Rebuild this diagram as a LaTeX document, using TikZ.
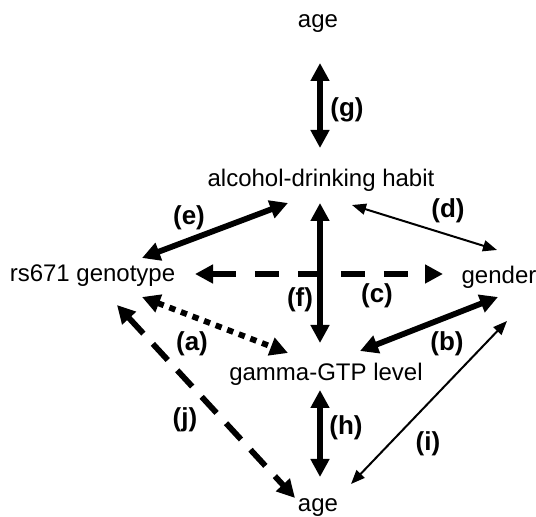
\documentclass[tikz,border=0pt]{standalone}
\usepackage{fontspec}
\setmainfont{Liberation Sans}
\usetikzlibrary{arrows.meta,calc}
\begin{document}
\begin{tikzpicture}[x=0.5pt,y=-0.5pt,
  var/.style={inner sep=0pt,anchor=base,font=\fontsize{12}{14}\selectfont},
  lab/.style={inner sep=0pt,font=\fontsize{13}{15}\selectfont\bfseries},
  thick link/.style={line width=2.9pt,
    {Triangle[length=9pt,width=9pt]}-{Triangle[length=9pt,width=9pt]}},
  thin link/.style={line width=1pt,
    {Triangle[length=7pt,width=5.5pt]}-{Triangle[length=7pt,width=5.5pt]}},
  long dash/.style={dash pattern=on 12pt off 9.5pt},
  short dash/.style={dash pattern=on 11pt off 7pt},
  dot line/.style={dash pattern=on 3.2pt off 3pt}]
\useasboundingbox (0,0) rectangle (536,517);

% variables
\node[var] (ageT)   at (318,28)  {age};
\node[var] (alc)    at (321,187) {alcohol-drinking habit};
\node[var] (rs)     at (92.5,282) {rs671 genotype};
\node[var] (gender) at (499,284) {gender};
\node[var] (gamma)  at (326,381) {gamma-GTP level};
\node[var] (ageB)   at (318,512) {age};

% associations
\draw[thick link] ($(ageT.base)+(2,35)$) -- ($(alc.base)+(-1,-39)$);
\draw[thick link] ($(alc.base)+(-1,16)$) -- ($(gamma.base)+(-6,-38)$);
\draw[thick link] ($(gamma.base)+(-6,9)$) -- ($(ageB.base)+(2,-35)$);
\draw[thick link] ($(alc.base)+(-33,16)$) -- ($(rs.base)+(49.5,-24)$);
\draw[thick link] ($(gamma.base)+(34,-30)$) -- ($(gender.base)+(-1,13)$);
\draw[thin link] ($(alc.base)+(31,18)$) -- ($(gender.base)+(-2,-34)$);
\draw[thin link] ($(gender.base)+(8,37)$) -- ($(ageB.base)+(33,-28)$);
\draw[thick link,long dash] ($(rs.base)+(102.5,-8)$) -- ($(gender.base)+(-56,-10)$);
\draw[thick link,dot line] ($(rs.base)+(49.5,15)$) -- ($(gamma.base)+(-38,-28)$);
\draw[thick link,short dash] ($(rs.base)+(24.5,23)$) -- ($(ageB.base)+(-23,-14)$);

% labels
\node[lab] (lg) at (347,110) {(g)};
\node[lab] (lf) at (300,300) {(f)};
\node[lab] (lh) at (346,428) {(h)};
\node[lab] (le) at (189,218) {(e)};
\node[lab] (ld) at (448,211) {(d)};
\node[lab] (lc) at (377,296) {(c)};
\node[lab] (lb) at (447,344) {(b)};
\node[lab] (li) at (428,444) {(i)};
\node[lab] (la) at (192,344) {(a)};
\node[lab] (lj) at (185,420) {(j)};
\end{tikzpicture}
\end{document}
